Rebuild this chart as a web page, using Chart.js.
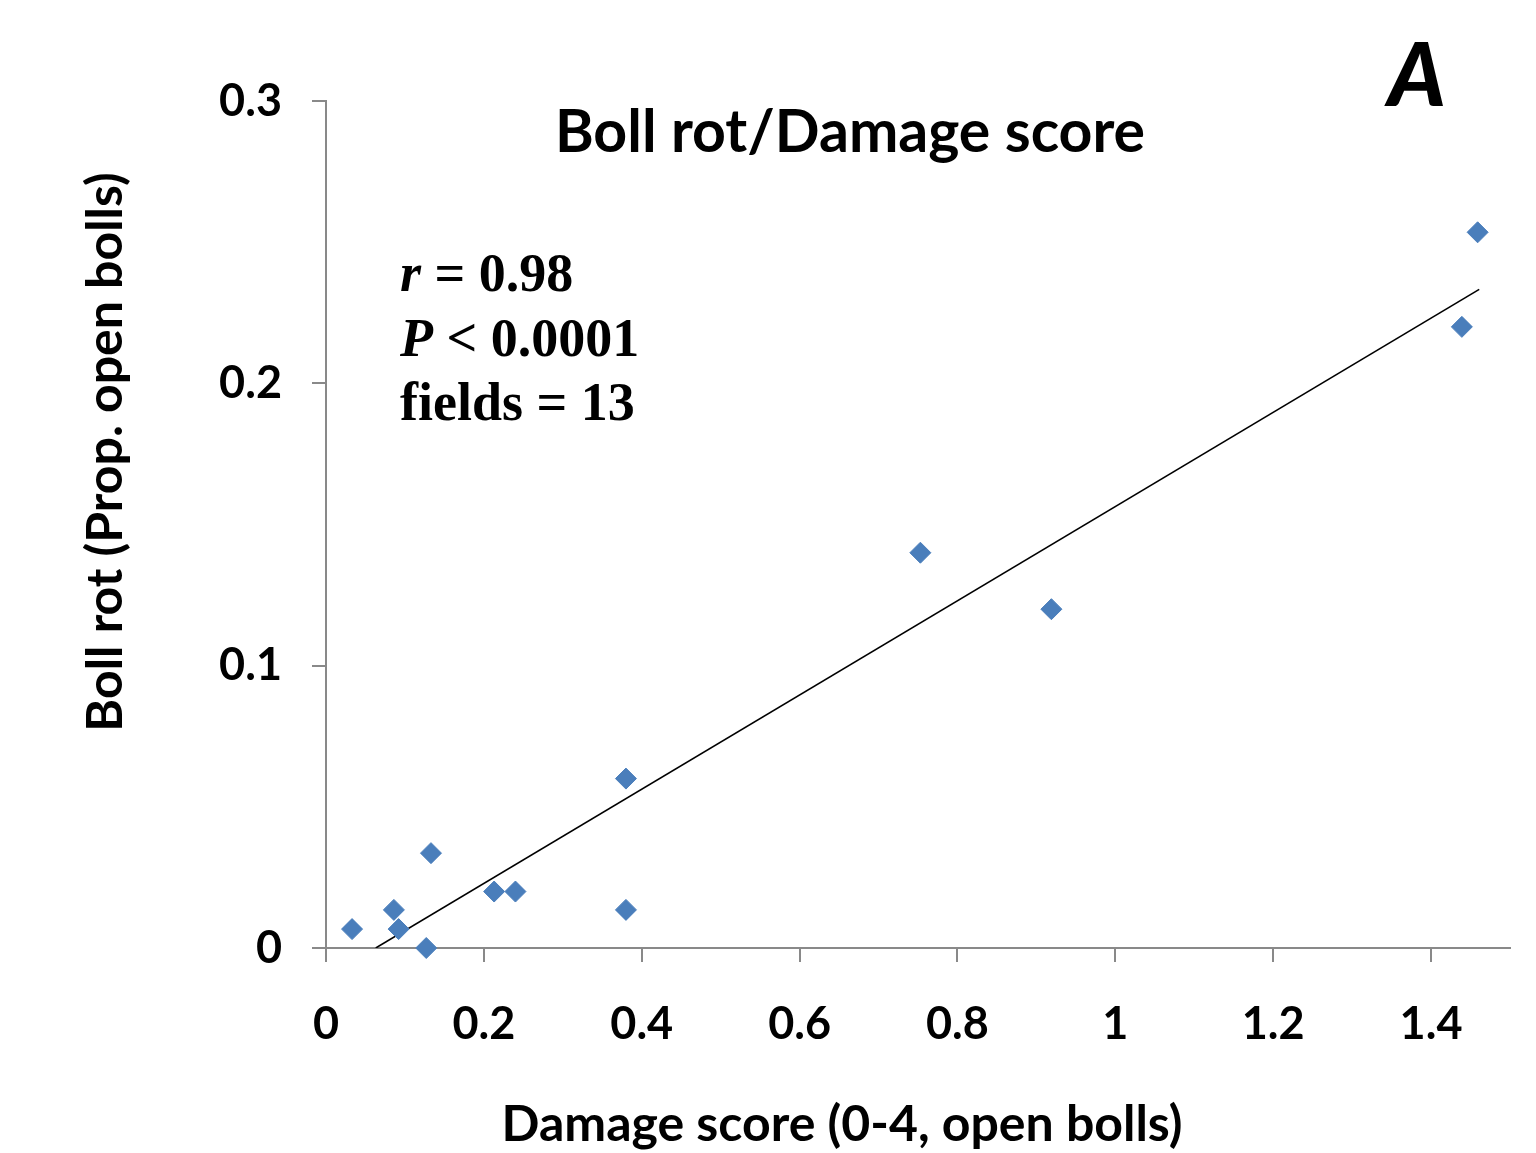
<!DOCTYPE html>
<html>
<head>
<meta charset="utf-8">
<script src="https://cdn.jsdelivr.net/npm/chart.js@4"></script>
<style>
  body { margin: 0; background: #fff; }
  canvas { display: block; }
</style>
</head>
<body>
<canvas id="myChart" width="1536" height="1153"></canvas>
<script>
// datos
const damageScore = [0.033, 0.086, 0.092, 0.127, 0.133, 0.213, 0.24, 0.38, 0.38, 0.753, 0.919, 1.439, 1.459];
const bollRot = [0.0067, 0.0135, 0.0067, 0.0, 0.0336, 0.020, 0.020, 0.060, 0.0135, 0.140, 0.120, 0.220, 0.2535];
// linea de tendencia (extremos leidos)
const trendX = [0.063, 1.461];
const trendY = [0.0, 0.2333];
const xTicks = [0, 0.2, 0.4, 0.6, 0.8, 1, 1.2, 1.4];
const yTicks = [0, 0.1, 0.2, 0.3];

const chartTitle = "Boll rot/Damage score";
const xTitle = "Damage score (0-4, open bolls)";
const yTitle = "Boll rot (Prop. open bolls)";
const panelLetter = "A";

const sans = "Lato, 'Open Sans', sans-serif";
const serif = "'Liberation Serif', 'DejaVu Serif', serif";
const axisGray = "#898989";

const fmt = (v) => String(Number(v.toFixed(2)));

// Dibujo los textos sobre el grafico
const textPlugin = {
  id: "textPlugin",
  afterDraw(chart) {
    const ctx = chart.ctx;
    ctx.save();
    ctx.fillStyle = "#000";
    ctx.textBaseline = "alphabetic";

    ctx.textAlign = "center";
    ctx.font = "bold 59px " + sans;
    ctx.fillText(chartTitle, 850, 152);

    ctx.font = "bold 50px " + sans;
    ctx.fillText(xTitle, 842, 1141);

    ctx.save();
    ctx.translate(122, 452);
    ctx.rotate(-Math.PI / 2);
    ctx.fillText(yTitle, 0, 0);
    ctx.restore();

    // estadisticas
    ctx.textAlign = "left";
    const lines = [
      [["r", true], [" = 0.98", false]],
      [["P", true], [" < 0.0001", false]],
      [["fields = 13", false]]
    ];
    const baselines = [291, 356, 420];
    lines.forEach((parts, i) => {
      let x = 400;
      parts.forEach(([txt, italic]) => {
        ctx.font = (italic ? "italic " : "") + "bold 54px " + serif;
        ctx.fillText(txt, x, baselines[i]);
        x += ctx.measureText(txt).width;
      });
    });

    ctx.font = "900 italic 88px " + sans;
    ctx.fillText(panelLetter, 1388, 106);
    ctx.restore();
  }
};

const config = {
  type: "scatter",
  data: {
    datasets: [
      {
        label: "Boll rot",
        data: damageScore.map((x, i) => ({ x: x, y: bollRot[i] })),
        pointStyle: "rectRot",
        pointRadius: 10.5,
        backgroundColor: "#4a7ebb",
        borderColor: "#4a7ebb",
        borderWidth: 1,
        clip: false,
        order: 1
      },
      {
        type: "line",
        label: "Trend",
        data: trendX.map((x, i) => ({ x: x, y: trendY[i] })),
        borderColor: "#000",
        borderWidth: 1.6,
        pointRadius: 0,
        fill: false,
        order: 2
      }
    ]
  },
  options: {
    responsive: false,
    devicePixelRatio: 1,
    animation: false,
    layout: { padding: { left: 0, top: 101, right: 26, bottom: 0 } },
    plugins: { legend: { display: false }, tooltip: { enabled: false }, title: { display: false } },
    scales: {
      x: {
        type: "linear",
        min: 0,
        max: 1.5,
        afterBuildTicks: (s) => { s.ticks = xTicks.map((v) => ({ value: v })); },
        afterFit: (s) => { s.height = 205; },
        grid: { drawOnChartArea: false, drawTicks: true, tickLength: 14, color: axisGray, lineWidth: 2 },
        border: { color: axisGray, width: 2 },
        ticks: {
          color: "#000",
          font: { family: sans, size: 45, weight: "bold" },
          padding: 35,
          maxRotation: 0,
          callback: (v) => fmt(v)
        }
      },
      y: {
        type: "linear",
        min: 0,
        max: 0.3,
        afterBuildTicks: (s) => { s.ticks = yTicks.map((v) => ({ value: v })); },
        afterFit: (s) => { s.width = 326; },
        grid: { drawOnChartArea: false, drawTicks: true, tickLength: 14, color: axisGray, lineWidth: 2 },
        border: { color: axisGray, width: 2 },
        ticks: {
          color: "#000",
          font: { family: sans, size: 45, weight: "bold" },
          padding: 30,
          callback: (v) => fmt(v)
        }
      }
    }
  },
  plugins: [textPlugin]
};

new Chart(document.getElementById("myChart"), config);
</script>
</body>
</html>
